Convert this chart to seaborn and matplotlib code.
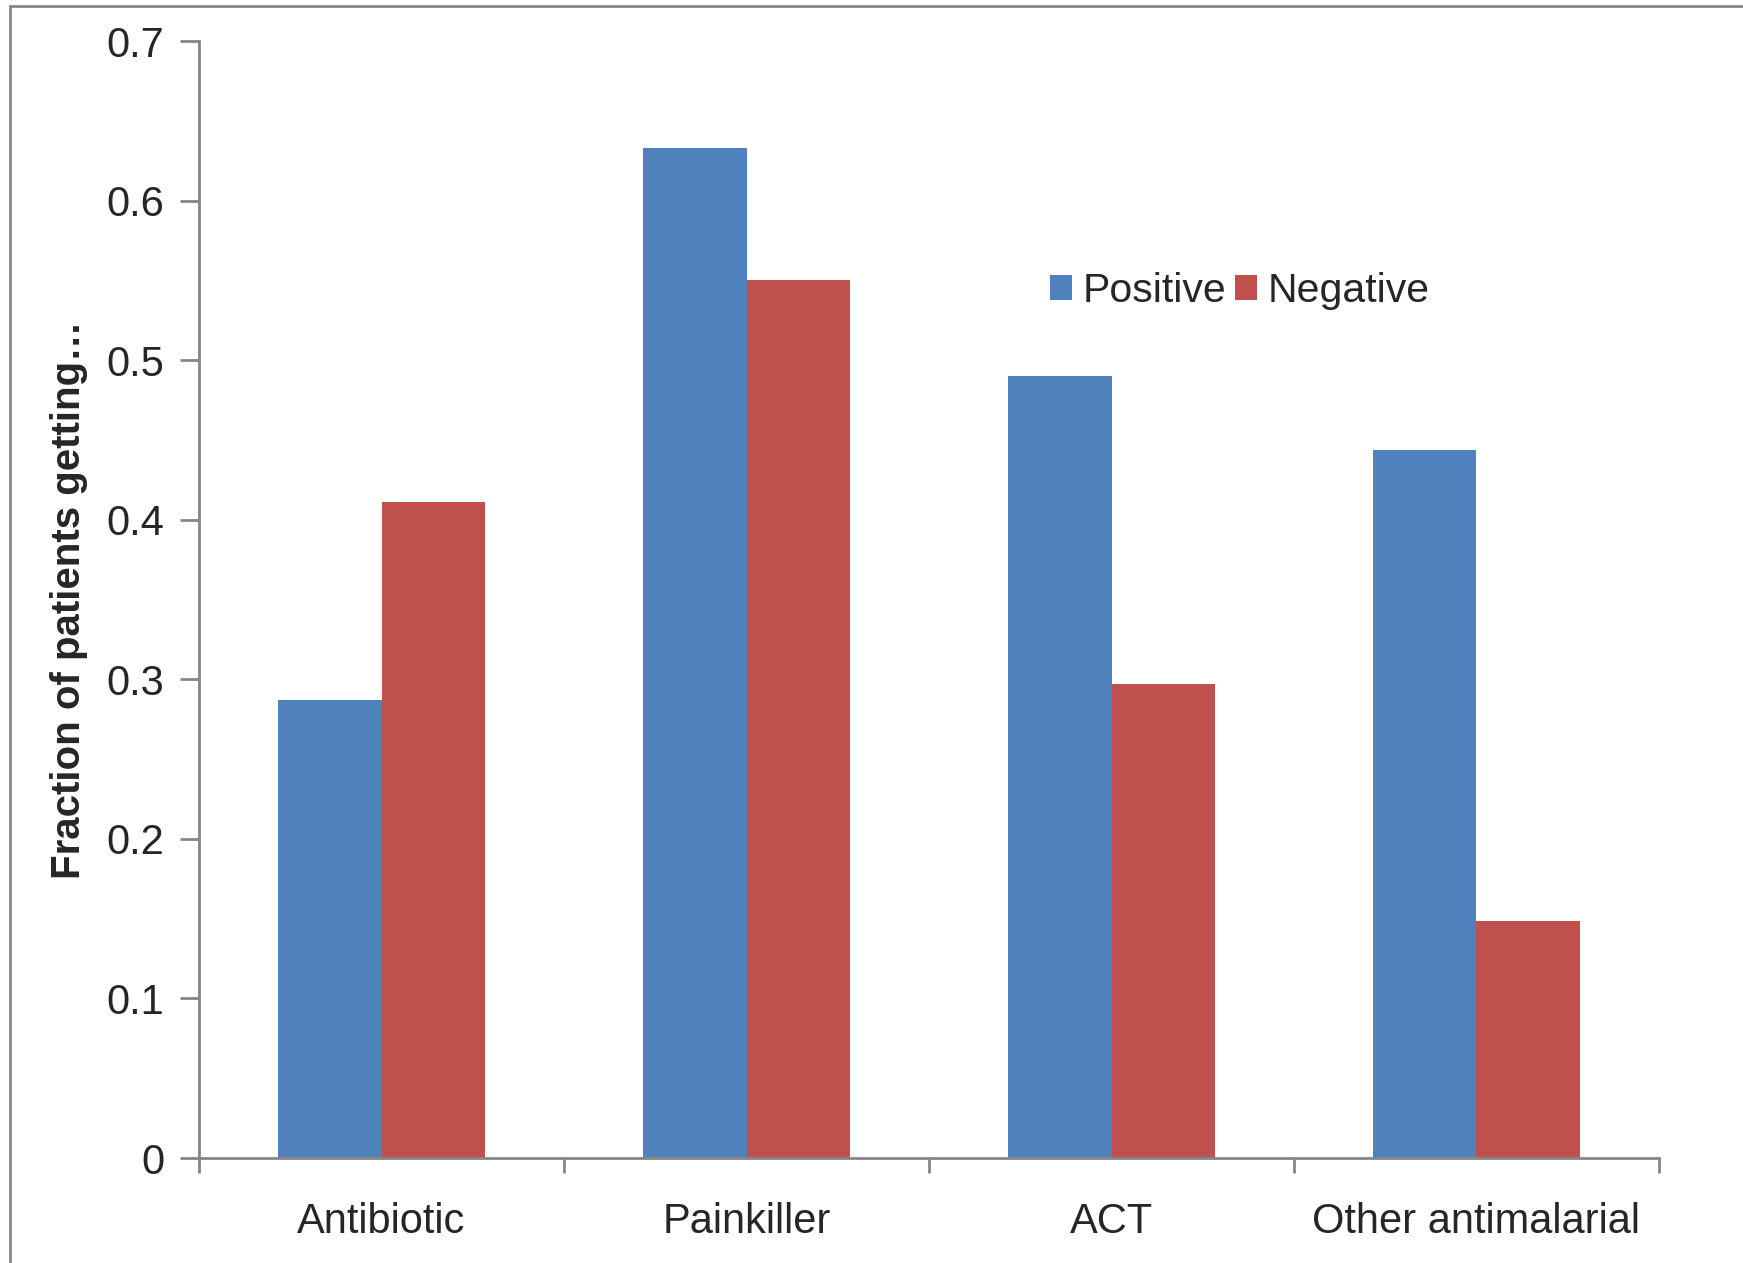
import pandas as pd
import seaborn as sns
import matplotlib.pyplot as plt
from matplotlib.patches import Rectangle

# values
categories = ['Antibiotic', 'Painkiller', 'ACT', 'Other antimalarial']
positive = [0.287, 0.633, 0.490, 0.4435]
negative = [0.411, 0.550, 0.297, 0.1485]
y_ticks = [0, 0.1, 0.2, 0.3, 0.4, 0.5, 0.6, 0.7]

df = pd.DataFrame({
    'category': categories * 2,
    'value': positive + negative,
    'result': ['Positive'] * len(categories) + ['Negative'] * len(categories),
})

sns.set_style('white')
plt.rcParams['font.family'] = ['Liberation Sans', 'DejaVu Sans']

fig = plt.figure(figsize=(17.43, 12.63), dpi=100)
ax = fig.add_axes([0.1142, 0.0831, 0.8376, 0.8844])

sns.barplot(data=df, x='category', y='value', hue='result',
            palette={'Positive': '#4F81BD', 'Negative': '#C0504D'},
            width=0.567, gap=0, saturation=1, linewidth=0, ax=ax)

# axes styling, Excel-like
for side in ['top', 'right']:
    ax.spines[side].set_visible(False)
for side in ['left', 'bottom']:
    ax.spines[side].set_color('#868686')
    ax.spines[side].set_linewidth(2)

ax.set_ylim(0, 0.7)
ax.set_yticks(y_ticks)
ax.set_yticklabels(['0' if v == 0 else f'{v:.1f}' for v in y_ticks], fontsize=30)
ax.tick_params(axis='y', left=True, length=14, width=2, color='#868686', pad=11)

ax.set_xlim(-0.5, len(categories) - 0.5)
ax.set_xticks([i - 0.5 for i in range(len(categories) + 1)])
ax.set_xticklabels([])
ax.set_xticks(range(len(categories)), minor=True)
ax.set_xticklabels(categories, minor=True, fontsize=30)
ax.tick_params(axis='x', which='major', bottom=True, length=11, width=2, color='#868686')
ax.tick_params(axis='x', which='minor', bottom=False, length=0, pad=32)

ax.set_xlabel('')
ax.set_ylabel('Fraction of patients getting…', fontsize=29, fontweight='bold', labelpad=13)

leg = ax.legend(loc='center left', bbox_to_anchor=(0.5575, 0.776), ncol=2, frameon=False,
                fontsize=29.5, handlelength=0.55, handleheight=0.55, handletextpad=0.25,
                columnspacing=0.2)

# outer chart frame (only top and left edges fall inside the image)
fig.patches.append(Rectangle((0.0057, -0.1), 1.2, 1.1 - 0.0048, transform=fig.transFigure,
                             fill=False, edgecolor='#868686', linewidth=2))

fig.savefig('out.png', dpi=100)
